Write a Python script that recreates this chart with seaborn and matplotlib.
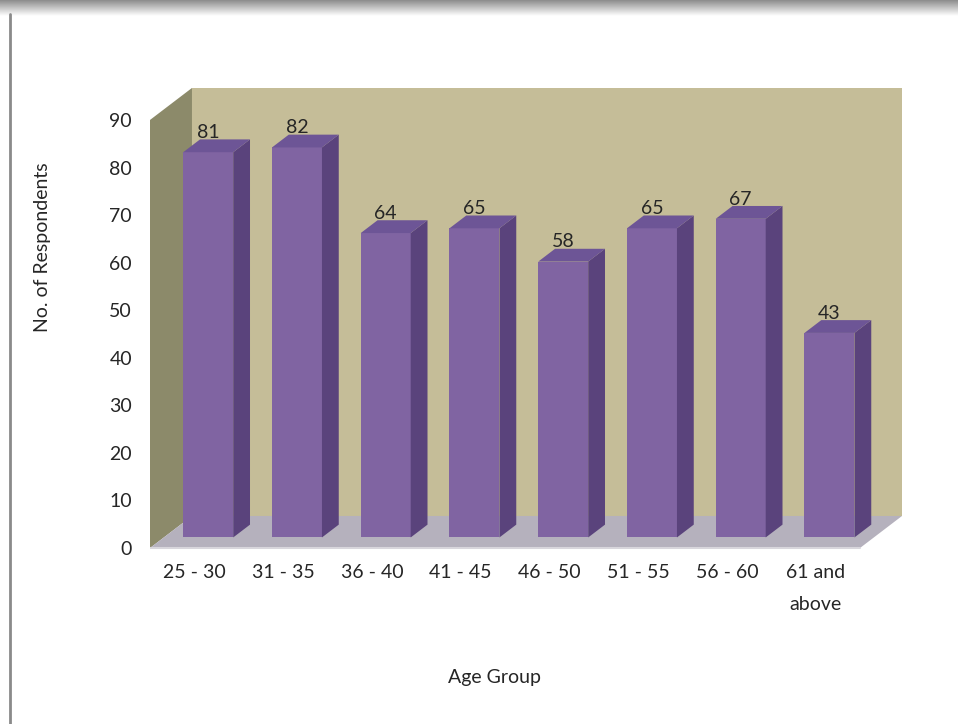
import numpy as np
import pandas as pd
import matplotlib
matplotlib.use("Agg")
import matplotlib.pyplot as plt
from matplotlib.patches import Polygon
import seaborn as sns

# ---- data ----
categories = ["25 - 30", "31 - 35", "36 - 40", "41 - 45", "46 - 50",
              "51 - 55", "56 - 60", "61 and\nabove"]
respondents = [81, 82, 64, 65, 58, 65, 67, 43]
y_ticks = [0, 10, 20, 30, 40, 50, 60, 70, 80, 90]
x_title = "Age Group"
y_title = "No. of Respondents"

# ---- style ----
sns.set_theme(style="white")
plt.rcParams["font.family"] = ["Lato", "DejaVu Sans"]

FRONT = "#8064a2"
SIDE = "#5a437c"
TOP = "#6d5596"
BACK_WALL = "#c5bd98"
LEFT_WALL = "#8c8a6a"
FLOOR = "#b5b1bd"
TEXT = "#262626"

W, H = 958, 724
fig = plt.figure(figsize=(W / 100, H / 100), dpi=100)
fig.patch.set_facecolor("white")

# oblique depth vector (in data units)
KX = 0.473   # categories
KY = 6.73    # value units
D0, D1 = 0.33, 0.73   # bar depth range (fraction of full depth)
YMAX = 90

px_per_cat = 88.75
px_per_unit = 4.756
xlim = (-0.5, 7.5 + KX + 0.05)
ylim = (-1.0, YMAX + KY + 1.0)
left_px, zero_px = 150, 548
ax_w = (xlim[1] - xlim[0]) * px_per_cat
ax_h = (ylim[1] - ylim[0]) * px_per_unit
bottom_px = zero_px + (0 - ylim[0]) * px_per_unit
ax = fig.add_axes([left_px / W, (H - bottom_px) / H, ax_w / W, ax_h / H])

df = pd.DataFrame({"group": categories, "n": respondents})
sns.barplot(data=df, x="group", y="n", color=FRONT, saturation=1,
            width=0.563, ax=ax, zorder=3, linewidth=0)

ax.set_xlim(*xlim)
ax.set_ylim(*ylim)

# walls & floor (depth 0 -> 1)
x0, x1 = -0.5, 7.5
ax.add_patch(Polygon([(x0 + KX, KY), (x1 + KX, KY), (x1 + KX, YMAX + KY),
                      (x0 + KX, YMAX + KY)], closed=True, fc=BACK_WALL,
                     ec="none", zorder=0))
ax.add_patch(Polygon([(x0, 0), (x0, YMAX), (x0 + KX, YMAX + KY), (x0 + KX, KY)],
                     closed=True, fc=LEFT_WALL, ec="none", zorder=1))
ax.add_patch(Polygon([(x0, 0), (x1, 0), (x1 + KX, KY), (x0 + KX, KY)],
                     closed=True, fc=FLOOR, ec="none", zorder=1))
ax.plot([x0, x1], [0, 0], color="#d8d6dc", lw=1.5, zorder=1.5)

# shift seaborn bars into depth and add side/top faces
ox, oy = D0 * KX, D0 * KY
bx, by = (D1 - D0) * KX, (D1 - D0) * KY
bars = [p for p in ax.patches
        if tuple(p.get_facecolor()[:3]) == matplotlib.colors.to_rgb(FRONT)]
for p, v in zip(bars, respondents):
    xl = p.get_x() + ox
    w = p.get_width()
    h = p.get_height()
    p.set_x(xl)
    p.set_y(oy)
    xr = xl + w
    top = oy + h
    ax.add_patch(Polygon([(xr, oy), (xr, top), (xr + bx, top + by), (xr + bx, oy + by)],
                         closed=True, fc=SIDE, ec="none", zorder=3))
    ax.add_patch(Polygon([(xl, top), (xr, top), (xr + bx, top + by), (xl + bx, top + by)],
                         closed=True, fc=TOP, ec="none", zorder=3))
    ax.text(xl + w / 2, top + by + 0.3, f"{v}", ha="center", va="baseline",
            fontsize=14, color=TEXT, zorder=5)

# axes cosmetics
for s in ax.spines.values():
    s.set_visible(False)
ax.set_yticks(y_ticks)
ax.set_yticklabels([str(t) for t in y_ticks])
ax.set_xticks(range(len(categories)))
ax.set_xticklabels(categories, linespacing=2.1)
ax.tick_params(axis="y", length=0, pad=13, labelsize=14, labelcolor=TEXT)
ax.tick_params(axis="x", length=0, pad=8, labelsize=14, labelcolor=TEXT)
ax.set_xlabel("")
ax.set_ylabel("")
ax.grid(False)
ax.set_facecolor("none")

fig.text(43 / W, 1 - 247 / H, y_title, rotation=90, ha="center", va="center",
         fontsize=14, color=TEXT)
fig.text(494 / W, 1 - 677 / H, x_title, ha="center", va="center",
         fontsize=14, color=TEXT)

# frame remnants: top shadow band and left border line
gax = fig.add_axes([0, 1 - 16 / H, 1, 16 / H])
grad = np.linspace(0.55, 1.0, 50).reshape(-1, 1)
gax.imshow(grad, aspect="auto", cmap="gray", vmin=0, vmax=1, extent=[0, 1, 0, 1])
gax.axis("off")
fig.add_artist(plt.Line2D([10 / W, 10 / W], [0, 1 - 14 / H], transform=fig.transFigure,
                          color="#8a8a8a", lw=2))

fig.savefig("out.png", dpi=100)
